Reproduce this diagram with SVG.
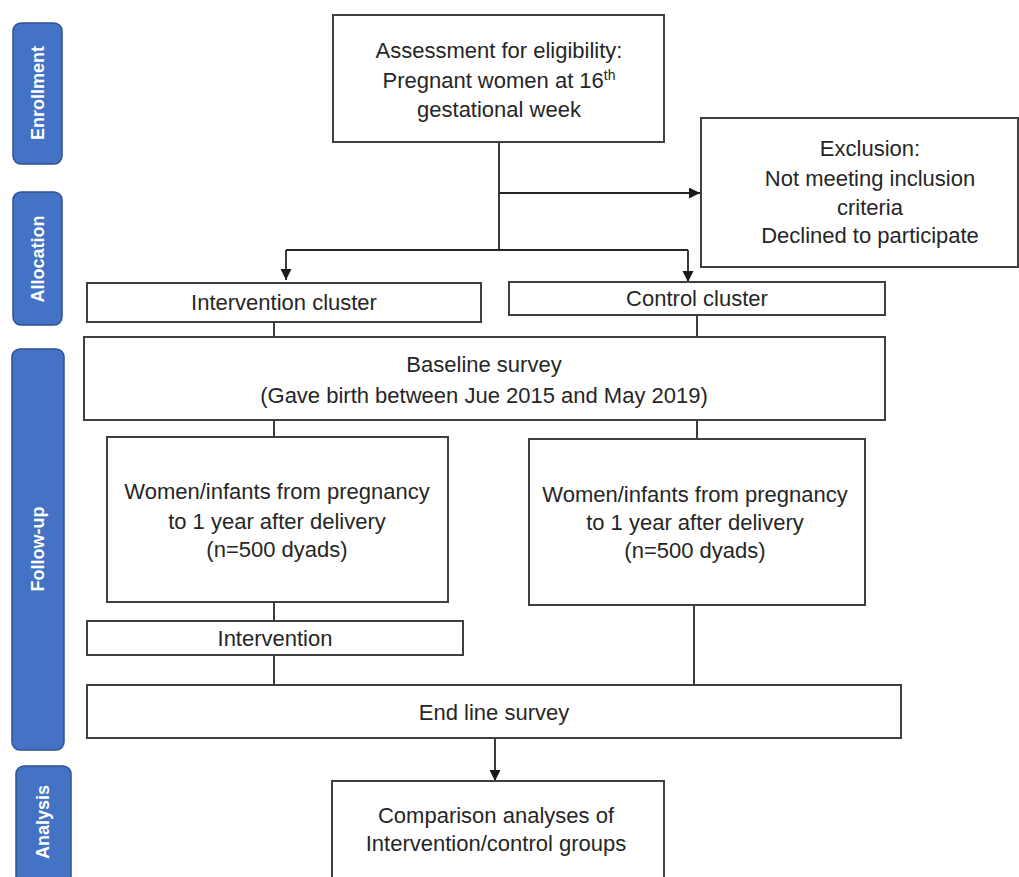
<svg xmlns="http://www.w3.org/2000/svg" width="1019" height="877" viewBox="0 0 1019 877">
<style>
.box{fill:#fff;stroke:#404040;stroke-width:2}
.side{fill:#4472C4;stroke:#2F528F;stroke-width:1.5}
.t{font-family:"Liberation Sans",Arial,sans-serif;font-size:22px;fill:#262626;text-anchor:middle}
.s{font-family:"Liberation Sans",Arial,sans-serif;font-size:18px;font-weight:bold;fill:#fff;text-anchor:middle}
.c{fill:none;stroke:#262626;stroke-width:1.8}
</style>
<defs>
<marker id="ah" markerWidth="12" markerHeight="12" refX="11" refY="5.5" orient="auto" markerUnits="userSpaceOnUse">
<path d="M0,0 L11,5.5 L0,11 Z" fill="#1a1a1a"/>
</marker>
</defs>
<rect width="1019" height="877" fill="#fff"/>
<g id="lbl-enrollment"><rect class="side" x="13" y="23" width="49" height="141" rx="8"/><text class="s" transform="translate(44,93) rotate(-90)">Enrollment</text></g>
<g id="lbl-allocation"><rect class="side" x="13" y="192" width="49" height="133" rx="8"/><text class="s" transform="translate(44,259) rotate(-90)">Allocation</text></g>
<g id="lbl-followup"><rect class="side" x="12" y="349" width="52" height="401" rx="8"/><text class="s" transform="translate(44,549) rotate(-90)">Follow-up</text></g>
<g id="lbl-analysis"><rect class="side" x="16" y="766" width="55" height="130" rx="8"/><text class="s" transform="translate(49,822) rotate(-90)">Analysis</text></g>
<g id="connectors">
<path class="c" d="M499,142 V250"/>
<path class="c" d="M499,193 H700" marker-end="url(#ah)"/>
<path class="c" d="M286,250 H688"/>
<path class="c" d="M286,250 V280" marker-end="url(#ah)"/>
<path class="c" d="M688,250 V282" marker-end="url(#ah)"/>
<path class="c" d="M274,322 V337"/>
<path class="c" d="M697,315 V337"/>
<path class="c" d="M274,420 V437"/>
<path class="c" d="M697,420 V439"/>
<path class="c" d="M274,602 V621"/>
<path class="c" d="M274,655 V685"/>
<path class="c" d="M694,605 V685"/>
<path class="c" d="M495,738 V781" marker-end="url(#ah)"/>
</g>
<g id="assessment"><rect class="box" x="333" y="15" width="331" height="127"/>
<text class="t" x="499" y="58">Assessment for eligibility:</text>
<text class="t" x="499" y="88">Pregnant women at 16<tspan font-size="14" dy="-8">th</tspan></text>
<text class="t" x="499" y="117">gestational week</text></g>
<g id="exclusion"><rect class="box" x="701" y="118" width="317" height="149"/>
<text class="t" x="870" y="156">Exclusion:</text>
<text class="t" x="870" y="186">Not meeting inclusion</text>
<text class="t" x="870" y="215">criteria</text>
<text class="t" x="870" y="243">Declined to participate</text></g>
<g id="int-cluster"><rect class="box" x="87" y="283" width="394" height="39"/><text class="t" x="284" y="310">Intervention cluster</text></g>
<g id="ctrl-cluster"><rect class="box" x="509" y="282" width="376" height="33"/><text class="t" x="697" y="306">Control cluster</text></g>
<g id="baseline"><rect class="box" x="84" y="337" width="801" height="83"/>
<text class="t" x="484" y="372">Baseline survey</text>
<text class="t" x="484" y="403">(Gave birth between Jue 2015 and May 2019)</text></g>
<g id="women-int"><rect class="box" x="107" y="437" width="341" height="165"/>
<text class="t" x="277" y="499">Women/infants from pregnancy</text>
<text class="t" x="277" y="529">to  1 year after delivery</text>
<text class="t" x="277" y="557">(n=500 dyads)</text></g>
<g id="women-ctrl"><rect class="box" x="529" y="439" width="336" height="166"/>
<text class="t" x="695" y="502">Women/infants from pregnancy</text>
<text class="t" x="695" y="530">to  1 year after delivery</text>
<text class="t" x="695" y="558">(n=500 dyads)</text></g>
<g id="intervention"><rect class="box" x="87" y="621" width="376" height="34"/><text class="t" x="275" y="646">Intervention</text></g>
<g id="endline"><rect class="box" x="87" y="685" width="814" height="53"/><text class="t" x="494" y="720">End line survey</text></g>
<g id="comparison"><rect class="box" x="332" y="781" width="332" height="110"/>
<text class="t" x="496" y="823">Comparison analyses of</text>
<text class="t" x="496" y="851">Intervention/control groups</text></g>
</svg>
